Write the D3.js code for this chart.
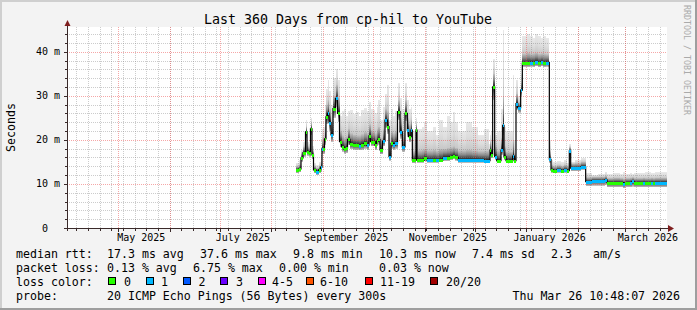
<!DOCTYPE html>
<html>
<head>
<meta charset="utf-8">
<script src="https://cdn.jsdelivr.net/npm/d3@7"></script>
<style>
  html, body { margin: 0; padding: 0; background: #f3f3f3; }
  svg { display: block; }
  text { font-family: "DejaVu Sans Mono", monospace; fill: #000; }
</style>
</head>
<body>
<svg id="chart" width="697" height="310"></svg>
<script>
// ---- data ----
const title = "Last 360 Days from cp-hil to YouTube";
const endTime = Date.UTC(2026, 2, 26, 10, 48, 7);
const spanDays = 360;

// day offset since graph start, one entry per step
const days = [
  137.4, 139.2, 140.4, 141.6, 143.1, 144.0, 145.2, 146.1, 147.0, 147.9,
  149.4, 150.9, 152.1, 153.0, 153.6, 154.5, 155.4, 156.3, 157.2, 158.4,
  159.6, 161.1, 162.3, 163.5, 164.7, 166.2, 167.4, 168.3, 169.8, 171.3,
  173.4, 174.9, 176.4, 178.2, 179.7, 181.2, 182.1, 183.6, 184.8, 185.7,
  186.8, 187.8, 189.3, 190.8, 192.2, 193.2, 194.4, 195.8, 196.8, 198.3,
  199.8, 201.2, 202.8, 204.2, 204.9, 206.4, 207.2, 209.4, 210.0, 213.0,
  214.4, 216.0, 219.6, 221.4, 223.2, 225.8, 227.8, 229.8, 231.6, 232.8,
  234.8, 239.4, 243.0, 246.6, 250.2, 252.9, 253.8, 254.4, 255.4, 256.6,
  257.8, 260.4, 261.4, 262.2, 263.4, 267.4, 268.4, 269.4, 270.4, 272.2,
  273.2, 276.0, 277.8, 279.6, 280.8, 282.6, 284.1, 285.6, 287.4, 289.4,
  290.4, 291.8, 294.0, 296.4, 298.2, 300.0, 301.4, 302.2, 304.8, 308.4,
  311.2, 315.0, 318.6, 322.8, 324.0, 328.2, 331.8, 333.8, 334.8, 337.8,
  339.0, 340.2, 345.6, 346.8, 350.4, 351.6, 352.8
];
// median rtt (ms)
const median = [
  13.2, 13.4, 15.9, 17.1, 21.8, 17.3, 17.1, 22.5, 16.6, 13.2,
  12.8, 13.2, 13.8, 18.0, 18.0, 20.2, 25.2, 26.0, 23.9, 21.1,
  27.1, 29.4, 26.0, 19.6, 18.4, 17.9, 18.1, 20.1, 19.0, 18.8,
  18.8, 18.6, 18.8, 19.2, 18.8, 20.9, 19.6, 19.6, 18.8, 19.7,
  20.1, 17.7, 19.7, 24.5, 23.0, 16.2, 19.2, 18.8, 19.2, 26.4,
  21.8, 18.4, 26.0, 22.2, 20.7, 22.2, 15.4, 22.2, 15.4, 15.4,
  15.8, 15.4, 15.4, 15.4, 15.5, 15.9, 15.9, 16.1, 16.3, 16.0,
  15.4, 15.4, 15.4, 15.4, 15.3, 15.3, 17.7, 16.6, 32.0, 16.2,
  15.3, 17.7, 23.3, 16.2, 15.3, 16.3, 15.3, 28.2, 27.3, 31.3,
  37.4, 37.4, 37.5, 37.4, 37.6, 37.4, 37.6, 37.4, 37.5, 15.6,
  13.2, 13.0, 13.2, 13.0, 13.2, 13.0, 17.5, 13.6, 13.6, 13.9,
  10.5, 10.7, 10.7, 10.9, 10.3, 10.3, 10.3, 10.0, 10.3, 10.3,
  10.6, 10.3, 10.3, 10.3, 10.3, 10.3, 10.3
];
// fastest ping (ms)
const minPing = [
  12.4, 12.6, 15.0, 16.2, 20.5, 16.4, 16.2, 21.0, 15.6, 12.4,
  12.0, 12.4, 12.8, 16.8, 16.8, 18.8, 23.5, 24.2, 22.0, 19.5,
  25.0, 27.5, 24.0, 18.3, 17.3, 16.9, 17.0, 18.8, 17.9, 17.7,
  17.7, 17.6, 17.7, 18.0, 17.7, 19.6, 18.5, 18.5, 17.7, 18.6,
  18.9, 16.7, 18.5, 22.8, 21.3, 15.3, 18.0, 17.7, 18.0, 24.5,
  20.3, 17.3, 24.2, 20.7, 19.4, 20.7, 14.7, 20.5, 14.8, 14.8,
  15.1, 14.8, 14.8, 14.8, 14.9, 15.2, 15.2, 15.4, 15.6, 15.3,
  14.8, 14.8, 14.8, 14.8, 14.7, 14.7, 16.8, 15.8, 29.0, 15.4,
  14.7, 16.6, 21.0, 15.4, 14.7, 15.5, 14.7, 26.8, 26.2, 30.0,
  36.5, 36.5, 36.6, 36.5, 36.7, 36.5, 36.7, 36.5, 36.6, 14.8,
  12.5, 12.4, 12.5, 12.4, 12.5, 12.4, 16.5, 12.9, 12.9, 13.2,
  9.5, 9.6, 9.6, 9.8, 9.2, 9.2, 9.2, 9.0, 9.2, 9.2,
  9.4, 9.2, 9.2, 9.2, 9.2, 9.2, 9.2
];
// top of the dense (dark) smoke (ms)
const darkTop = [
  14.0, 14.4, 17.0, 18.4, 23.0, 18.5, 18.2, 23.8, 17.5, 14.0,
  13.6, 14.1, 15.0, 20.0, 20.5, 23.5, 28.0, 29.0, 27.0, 24.0,
  30.0, 32.5, 29.5, 22.0, 21.0, 20.5, 20.8, 22.5, 21.5, 21.2,
  21.0, 21.0, 21.3, 21.8, 21.5, 23.5, 22.2, 22.0, 21.5, 22.5,
  23.0, 20.5, 22.5, 27.0, 26.5, 19.0, 22.0, 21.5, 22.0, 29.0,
  25.0, 21.5, 29.0, 25.0, 23.5, 24.5, 17.5, 23.5, 17.6, 17.8,
  18.0, 17.6, 17.8, 17.5, 18.0, 18.0, 18.2, 18.3, 18.5, 18.2,
  17.6, 17.8, 17.6, 17.4, 17.5, 16.8, 19.5, 19.0, 35.0, 18.5,
  17.5, 20.5, 30.0, 18.5, 17.3, 20.0, 17.0, 30.5, 28.5, 33.0,
  39.5, 39.8, 39.5, 39.6, 39.8, 39.5, 39.6, 39.5, 39.4, 17.5,
  14.3, 14.0, 14.2, 14.0, 14.3, 14.0, 18.3, 14.6, 14.7, 15.0,
  11.5, 11.6, 11.6, 11.8, 11.3, 11.4, 11.3, 11.2, 11.3, 11.4,
  11.5, 11.3, 11.4, 11.3, 11.4, 11.3, 11.4
];
// slowest ping (ms)
const maxPing = [
  14.8, 15.5, 17.8, 19.5, 24.5, 19.5, 19.0, 25.0, 18.5, 14.8,
  14.3, 15.0, 16.5, 22.5, 23.0, 28.0, 31.5, 33.5, 31.0, 28.0,
  34.0, 36.0, 33.5, 25.5, 26.5, 27.0, 25.5, 26.5, 26.8, 25.8,
  26.3, 25.5, 26.8, 27.2, 26.5, 28.5, 27.0, 26.8, 26.0, 27.5,
  29.0, 24.5, 27.5, 30.5, 32.5, 24.5, 27.0, 25.5, 26.5, 32.8,
  29.5, 27.0, 33.0, 29.0, 27.0, 27.5, 22.0, 25.0, 22.5, 23.0,
  24.0, 22.0, 23.0, 21.0, 24.5, 23.0, 25.5, 24.0, 26.4, 24.0,
  22.0, 24.0, 23.0, 21.0, 22.5, 19.0, 21.0, 22.0, 38.4, 21.0,
  22.0, 27.0, 45.0, 23.0, 22.0, 34.6, 20.0, 33.5, 30.0, 35.0,
  43.5, 44.0, 43.5, 43.0, 44.0, 43.5, 43.0, 43.5, 43.0, 20.0,
  15.5, 15.0, 15.2, 15.0, 15.5, 14.8, 19.0, 15.0, 15.5, 15.8,
  12.5, 12.0, 12.3, 12.8, 12.2, 12.5, 12.2, 12.6, 12.3, 12.5,
  12.3, 12.5, 12.4, 12.6, 12.4, 12.4, 12.6
];
// loss colour bucket of each step
const lossIdx = [
  0, 0, 0, 0, 0, 0, 0, 0, 0, 0,
  1, 0, 1, 1, 0, 0, 0, 1, 1, 1,
  0, 1, 0, 0, 0, 0, 0, 0, 0, 0,
  0, 1, 0, 0, 1, 0, 0, 0, 0, 0,
  0, 0, 1, 1, 0, 1, 0, 1, 1, 0,
  1, 1, 0, 1, 0, 1, 0, 0, 0, 0,
  0, 1, 0, 1, 0, 1, 0, 0, 0, 0,
  1, 1, 1, 1, 1, 1, 0, 0, 0, 1,
  0, 1, 1, 0, 0, 1, 0, 1, 1, 1,
  0, 0, 1, 0, 1, 0, 1, 0, 1, 1,
  0, 0, 1, 0, 1, 0, 1, 1, 1, 1,
  1, 1, 1, 1, 0, 0, 0, 1, 0, 1,
  1, 0, 1, 0, 1, 0, 1
];

const yTickValues = [0, 10, 20, 30, 40];
const yTickLabels = ["0", "10 m", "20 m", "30 m", "40 m"];
const xLabelMonths = [[2025, 4], [2025, 6], [2025, 8], [2025, 10], [2026, 0], [2026, 2]];
const xLabelTexts = ["May 2025", "July 2025", "September 2025", "November 2025", "January 2026", "March 2026"];

const lossColors = ["#26ff00", "#00b8ff", "#0059ff", "#6a00ff", "#ff00ff", "#ff5500", "#ff0000", "#a10000"];
const lossLabels = ["0", "1", "2", "3", "4-5", "6-10", "11-19", "20/20"];

const rttRow = ["median rtt:", "17.3 ms avg", "37.6 ms max", "9.8 ms min", "10.3 ms now", "7.4 ms sd", "2.3", "am/s"];
const lossRow = ["packet loss:", "0.13 % avg", "6.75 % max", "0.00 % min", "0.03 % now"];
const probeRow = ["probe:", "20 ICMP Echo Pings (56 Bytes) every 300s", "Thu Mar 26 10:48:07 2026"];

// ---- drawing ----
const W = 697, H = 310;
const plot = { left: 67, right: 667, top: 27, bottom: 228 };
const DAY = 864e5;
const startTime = endTime - spanDays * DAY;

const svg = d3.select("#chart");

const x = d3.scaleUtc()
  .domain([new Date(startTime), new Date(endTime)])
  .range([plot.left, plot.right]);
const xd = d => x(new Date(startTime + d * DAY)); // day offset -> px
const y = d3.scaleLinear().domain([0, 45.6]).range([plot.bottom, plot.top]);

// background with rrdtool style bevel
svg.append("rect").attr("width", W).attr("height", H).attr("fill", "#f3f3f3");
svg.append("path").attr("d", `M0,0H${W}V2H2V${H}H0Z`).attr("fill", "#cfcfcf");
svg.append("path").attr("d", `M${W},${H}H0V${H - 2}H${W - 2}V0H${W}Z`).attr("fill", "#9e9e9e");

// canvas
svg.append("rect")
  .attr("x", plot.left).attr("y", plot.top)
  .attr("width", plot.right - plot.left).attr("height", plot.bottom - plot.top)
  .attr("fill", "#fff");

// gradients for the smoke
const defs = svg.append("defs");
function grad(id, stops) {
  const g = defs.append("linearGradient").attr("id", id)
    .attr("x1", 0).attr("y1", 0).attr("x2", 0).attr("y2", 1);
  stops.forEach(s => g.append("stop").attr("offset", s[0]).attr("stop-color", s[1]));
}
grad("gLight", [[0, "#e8e8e8"], [0.5, "#dedede"], [1, "#c8c8c8"]]);
grad("gDark", [[0, "#c2c2c2"], [0.45, "#8a8a8a"], [0.8, "#444"], [1, "#111"]]);
grad("gLow", [[0, "#333"], [1, "#c8c8c8"]]);

// step extents
const steps = days.map((d, i) => ({
  x0: Math.round(xd(d)),
  x1: Math.round(xd(i + 1 < days.length ? days[i + 1] : spanDays)),
  med: median[i], lo: minPing[i], q: darkTop[i], hi: maxPing[i], loss: lossIdx[i]
}));

const smoke = svg.append("g").attr("shape-rendering", "crispEdges");
steps.forEach(s => {
  const w = Math.max(1, s.x1 - s.x0);
  smoke.append("rect").attr("x", s.x0).attr("width", w)
    .attr("y", y(s.hi)).attr("height", Math.max(0, y(s.q) - y(s.hi)))
    .attr("fill", "url(#gLight)");
  smoke.append("rect").attr("x", s.x0).attr("width", w)
    .attr("y", y(s.q)).attr("height", Math.max(0, y(s.med) - y(s.q)))
    .attr("fill", "url(#gDark)");
  smoke.append("rect").attr("x", s.x0).attr("width", w)
    .attr("y", y(s.med)).attr("height", Math.max(0, y(s.lo) - y(s.med)))
    .attr("fill", "url(#gLow)");
});

// grid (drawn over the data like rrdtool does)
const grid = svg.append("g").attr("shape-rendering", "crispEdges").attr("stroke-dasharray", "1,1");
const minorY = d3.range(2, 45.6, 2).filter(v => v % 10 !== 0);
grid.selectAll(".hmin").data(minorY).join("line")
  .attr("x1", plot.left).attr("x2", plot.right)
  .attr("y1", v => Math.round(y(v)) + 0.5).attr("y2", v => Math.round(y(v)) + 0.5)
  .attr("stroke", "rgba(128,128,128,0.4)");

const sundays = d3.utcSunday.range(new Date(startTime), new Date(endTime));
grid.selectAll(".vmin").data(sundays).join("line")
  .attr("x1", d => Math.round(x(d)) + 0.5).attr("x2", d => Math.round(x(d)) + 0.5)
  .attr("y1", plot.top).attr("y2", plot.bottom)
  .attr("stroke", "rgba(128,128,128,0.4)");

const months = d3.utcMonth.range(new Date(startTime), new Date(endTime))
  .filter(d => x(d) - plot.left > 2);
grid.selectAll(".vmaj").data(months).join("line")
  .attr("x1", d => Math.round(x(d)) + 0.5).attr("x2", d => Math.round(x(d)) + 0.5)
  .attr("y1", plot.top).attr("y2", plot.bottom)
  .attr("stroke", "rgba(235,80,80,0.5)");
grid.selectAll(".hmaj").data(yTickValues.slice(1)).join("line")
  .attr("x1", plot.left).attr("x2", plot.right)
  .attr("y1", v => Math.round(y(v)) + 0.5).attr("y2", v => Math.round(y(v)) + 0.5)
  .attr("stroke", "rgba(235,80,80,0.5)");

// median line
const medPts = days.map((d, i) => [xd(d), y(median[i])]);
medPts.push([xd(spanDays), y(median[median.length - 1])]);
svg.append("path")
  .attr("d", d3.line().curve(d3.curveStepAfter)(medPts))
  .attr("fill", "none").attr("stroke", "#000").attr("stroke-width", 1.2);

// loss-coloured median swatches
svg.append("g").attr("shape-rendering", "crispEdges")
  .selectAll("rect").data(steps).join("rect")
  .attr("x", s => s.x0).attr("width", s => Math.max(1, s.x1 - s.x0))
  .attr("y", s => Math.round(y(s.med)) - 1).attr("height", 3)
  .attr("fill", s => lossColors[s.loss]);

// axes
const axis = svg.append("g").attr("shape-rendering", "crispEdges").attr("stroke", "#3a2a2a");
axis.append("line").attr("x1", plot.left + 0.5).attr("x2", plot.left + 0.5)
  .attr("y1", plot.bottom + 3).attr("y2", plot.top - 4);
axis.append("line").attr("x1", plot.left - 3).attr("x2", plot.right + 2)
  .attr("y1", plot.bottom + 0.5).attr("y2", plot.bottom + 0.5);
d3.range(0, 45.6, 2).forEach(v => {
  axis.append("line").attr("x1", v % 10 === 0 ? plot.left - 3 : plot.left - 2).attr("x2", plot.left)
    .attr("y1", Math.round(y(v)) + 0.5).attr("y2", Math.round(y(v)) + 0.5);
});
sundays.forEach(d => {
  axis.append("line").attr("x1", Math.round(x(d)) + 0.5).attr("x2", Math.round(x(d)) + 0.5)
    .attr("y1", plot.bottom).attr("y2", plot.bottom + 3);
});
months.forEach(d => {
  axis.append("line").attr("x1", Math.round(x(d)) + 0.5).attr("x2", Math.round(x(d)) + 0.5)
    .attr("y1", plot.bottom).attr("y2", plot.bottom + 4);
});
svg.append("path").attr("d", `M64.5,26L70.5,26L67.5,20Z`).attr("fill", "#7f1f1f");
svg.append("path").attr("d", `M668,225L668,232L674,228.5Z`).attr("fill", "#7f1f1f");

// y labels
svg.append("g").selectAll("text").data(yTickValues).join("text")
  .attr("x", (v, i) => i === 0 ? 48 : 60)
  .attr("y", v => y(v) + 3.5)
  .attr("text-anchor", "end")
  .style("font-size", "10px")
  .text((v, i) => yTickLabels[i]);

// x labels, centred half a month after the month start
svg.append("g").selectAll("text").data(xLabelMonths).join("text")
  .attr("x", m => x(new Date(Date.UTC(m[0], m[1], 15))))
  .attr("y", 240.5)
  .attr("text-anchor", "middle")
  .style("font-size", "10px")
  .text((m, i) => xLabelTexts[i]);

// title, axis title, watermark
svg.append("text").attr("x", 348).attr("y", 24).attr("text-anchor", "middle")
  .style("font-size", "13.3px").text(title);
svg.append("text").attr("transform", "translate(15,127.5) rotate(-90)")
  .attr("text-anchor", "middle").style("font-size", "11.6px").text("Seconds");
svg.append("text").attr("transform", "translate(684,5) rotate(90)")
  .style("font-size", "8.3px").style("fill", "#aaa").text("RRDTOOL / TOBI OETIKER");

// legend
const lg = svg.append("g").style("font-size", "11.6px");
const rttX = [16, 107, 200, 293, 379, 472, 551, 593];
rttRow.forEach((t, i) => lg.append("text").attr("x", rttX[i]).attr("y", 257.5).text(t));
const lossX = [16, 107, 193, 279, 379];
lossRow.forEach((t, i) => lg.append("text").attr("x", lossX[i]).attr("y", 271.5).text(t));
lg.append("text").attr("x", 16).attr("y", 285.5).text("loss color:");
const boxX = [108.5, 146, 183.5, 220.5, 258.5, 306, 365.5, 430.5];
const boxLabelX = [124, 161, 198.5, 236, 272, 320, 380, 446];
lossColors.forEach((c, i) => {
  lg.append("rect").attr("x", boxX[i]).attr("y", 277.5).attr("width", 7).attr("height", 7)
    .attr("fill", c).attr("stroke", "#000").attr("shape-rendering", "crispEdges");
  lg.append("text").attr("x", boxLabelX[i]).attr("y", 285.5).text(lossLabels[i]);
});
lg.append("text").attr("x", 16).attr("y", 299.5).text(probeRow[0]);
lg.append("text").attr("x", 107).attr("y", 299.5).text(probeRow[1]);
lg.append("text").attr("x", 680).attr("y", 299.5).attr("text-anchor", "end").text(probeRow[2]);
</script>
</body>
</html>
